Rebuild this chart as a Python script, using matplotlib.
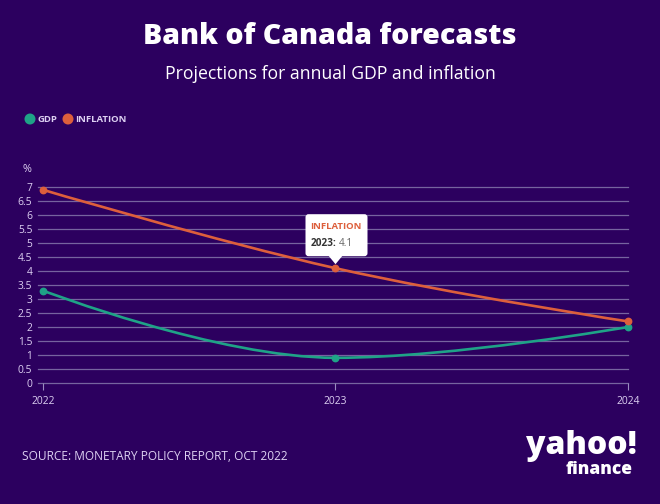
import matplotlib
matplotlib.use("Agg")
import matplotlib.pyplot as plt
from matplotlib.path import Path
from matplotlib.patches import PathPatch, FancyBboxPatch, Polygon, Circle
import numpy as np

years = [2022, 2023, 2024]
gdp = [3.3, 0.9, 2.0]
inflation = [6.9, 4.1, 2.2]
series_names = ["GDP", "INFLATION"]
y_ticks = [0, 0.5, 1, 1.5, 2, 2.5, 3, 3.5, 4, 4.5, 5, 5.5, 6, 6.5, 7]
y_tick_labels = ["0", "0.5", "1", "1.5", "2", "2.5", "3", "3.5", "4", "4.5", "5", "5.5", "6", "6.5", "7"]

BG = "#2c005f"
GRID = "#76649f"
TEXT = "#ddd0f2"
C_GDP = "#1fa387"
C_INF = "#dd5f3c"

W, H = 660, 504
fig = plt.figure(figsize=(W / 100, H / 100), dpi=100, facecolor=BG)


def fx(px):
    return px / W


def fy(py):
    return 1 - py / H


ax = fig.add_axes([fx(38), fy(383), fx(628) - fx(38), (383 - 187) / H])
ax.set_facecolor(BG)
x0 = 2022 - 5 / 292.5
ax.set_xlim(x0, 2024)
ax.set_ylim(0, 7)
for s in ax.spines.values():
    s.set_visible(False)
for t in y_ticks:
    ax.axhline(t, color=GRID, lw=0.9, zorder=1, clip_on=False)
ax.set_yticks(y_ticks)
ax.set_yticklabels(y_tick_labels)
ax.tick_params(axis="y", length=0, pad=4, labelsize=7.4, labelcolor=TEXT)
ax.set_xticks(years)
ax.set_xticklabels([str(y) for y in years])
ax.tick_params(axis="x", length=5, width=0.8, color="#9a8cc0", pad=4, labelsize=7.4, labelcolor=TEXT)
for lab in ax.get_yticklabels() + ax.get_xticklabels():
    lab.set_fontfamily("Open Sans")


def spline_path(xs, ys):
    # Highcharts-style spline in display coordinates
    pts = ax.transData.transform(np.column_stack([xs, ys]))
    n = len(pts)
    sm = 1.5
    den = sm + 1
    lc = [None] * n
    rc = [None] * n
    for i in range(n):
        px, py = pts[i]
        if i == 0 or i == n - 1:
            lc[i] = (px, py)
            rc[i] = (px, py)
            continue
        lx, ly = pts[i - 1]
        nx, ny = pts[i + 1]
        lcx = (sm * px + lx) / den
        lcy = (sm * py + ly) / den
        rcx = (sm * px + nx) / den
        rcy = (sm * py + ny) / den
        corr = ((rcy - lcy) * (rcx - px)) / (rcx - lcx) + py - rcy
        lcy += corr
        rcy += corr
        if lcy > ly and lcy > py:
            lcy = max(ly, py)
            rcy = 2 * py - lcy
        elif lcy < ly and lcy < py:
            lcy = min(ly, py)
            rcy = 2 * py - lcy
        if rcy > ny and rcy > py:
            rcy = max(ny, py)
            lcy = 2 * py - rcy
        elif rcy < ny and rcy < py:
            rcy = min(ny, py)
            lcy = 2 * py - rcy
        lc[i] = (lcx, lcy)
        rc[i] = (rcx, rcy)
    verts = [tuple(pts[0])]
    codes = [Path.MOVETO]
    for i in range(n - 1):
        verts += [rc[i], lc[i + 1], tuple(pts[i + 1])]
        codes += [Path.CURVE4] * 3
    return Path(verts, codes)


for vals, col in [(gdp, C_GDP), (inflation, C_INF)]:
    p = spline_path(years, vals)
    patch = PathPatch(p, transform=None, facecolor="none", edgecolor=col, lw=1.9,
                      zorder=3, clip_on=False, capstyle="round", joinstyle="round")
    fig.add_artist(patch)
    ax.plot(years, vals, "o", color=col, ms=4.6, zorder=4, clip_on=False)

# "%" unit label
fig.text(fx(27), fy(170), "%", color=TEXT, fontsize=7.8, ha="center", va="center",
         family="Open Sans")

# Legend
legend_colors = [C_GDP, C_INF]
legend_x = [30, 68]
for name, col, lx in zip(series_names, legend_colors, legend_x):
    fig.add_artist(Circle((lx, H - 119), 5.5, transform=None, facecolor=col,
                          edgecolor="none"))
    fig.text(fx(lx + 7.5), fy(119), name, color=TEXT, fontsize=6.8, fontweight="bold",
             ha="left", va="center", family="Open Sans")

# Title / subtitle
fig.text(0.5, fy(37), "Bank of Canada forecasts", color="white", fontsize=20.5,
         fontweight="heavy", ha="center", va="center", family="Open Sans")
fig.text(0.5, fy(74), "Projections for annual GDP and inflation", color="white",
         fontsize=12.7, ha="center", va="center", family="Open Sans")

# Source
fig.text(fx(22), fy(457), "SOURCE: MONETARY POLICY REPORT, OCT 2022", color=TEXT,
         fontsize=8.6, ha="left", va="center", family="Open Sans")

# Yahoo finance logo as text
fig.text(fx(637), fy(446), "yahoo!", color="white", fontsize=23, fontweight="heavy",
         ha="right", va="center", family="Open Sans")
fig.text(fx(633), fy(470), "finance", color="white", fontsize=12.5, fontweight="heavy",
         ha="right", va="center", family="Open Sans")

# Tooltip for inflation 2023
tx, ty = ax.transData.transform((years[1], inflation[1]))
bw, bh = 62, 42
left = tx - 30
top = ty + 54
bottom = top - bh
box = FancyBboxPatch((left, bottom), bw, bh, boxstyle="round,pad=0,rounding_size=3",
                     transform=None, facecolor="white", edgecolor="none", zorder=10)
fig.add_artist(box)
tri = Polygon([(tx - 7, bottom + 0.5), (tx + 7, bottom + 0.5), (tx, bottom - 8)],
              closed=True, transform=None, facecolor="white", edgecolor="none", zorder=10)
fig.add_artist(tri)
fig.text((left + 5) / W, (top - 12) / H, "INFLATION", color=C_INF, fontsize=6.8,
         fontweight="bold", ha="left", va="center", family="Open Sans", zorder=11)
fig.text((left + 5) / W, (top - 29) / H, "2023:", color="#333333", fontsize=7.2,
         fontweight="bold", ha="left", va="center", family="Open Sans", zorder=11)
fig.text((left + 33) / W, (top - 29) / H, "4.1", color="#666666", fontsize=7.2,
         ha="left", va="center", family="Open Sans", zorder=11)

fig.savefig("out.png", dpi=100, facecolor=BG)
